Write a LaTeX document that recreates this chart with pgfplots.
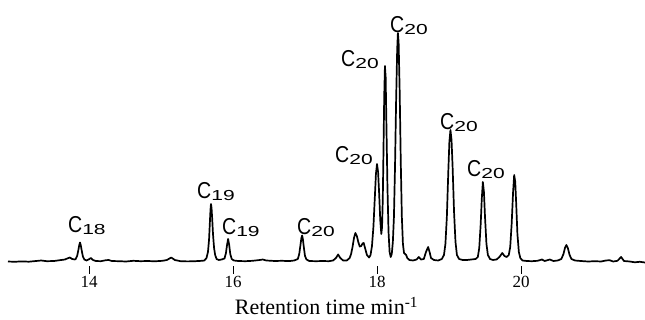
\documentclass[border=0pt]{standalone}
\usepackage{pgfplots}
\pgfplotsset{compat=1.18}
\usepackage{graphicx}
\usepackage{fontspec}
\setmainfont{Liberation Serif}
\newfontfamily\labfont{Liberation Sans}
\newcommand\clab[1]{{\labfont\fontsize{23}{23}\selectfont\scalebox{0.85}[1]{C}\raisebox{-1.5pt}{\scalebox{1.45}[1]{\fontsize{14.5}{14.5}\selectfont #1}}}}
\begin{document}
\begin{tikzpicture}
\useasboundingbox (0,0) rectangle (645pt,320pt);
\begin{axis}[
  at={(8pt,54pt)}, anchor=south west,
  scale only axis, width=637pt, height=266pt,
  xmin=12.875, xmax=21.722, ymin=-4, ymax=262,
  enlargelimits=false, clip=false,
  axis x line*=bottom, axis y line=none,
  x axis line style={draw=none},
  xtick={14,16,18,20}, ytick=\empty,
  tick align=outside, major tick length=8pt,
  tick style={black, line width=1pt},
  xticklabel style={font=\fontsize{17}{17}\selectfont, inner sep=2pt},
  /pgf/number format/assume math mode=true,
  xlabel={Retention time min\textsuperscript{-1}},
  xlabel style={font=\fontsize{22}{22}\selectfont, at={(axis description cs:0.5,0)}, anchor=base, yshift=-49pt, inner sep=0pt},
]
\addplot[black, line width=1.7pt, line join=round] coordinates {
(12.875,0.5)(12.965,0.2)(13.065,0.6)(13.165,0.3)(13.265,1.0)(13.335,1.5)(13.415,0.8)(13.515,1.0)
(13.595,1.8)(13.665,2.5)(13.715,4)(13.735,4.5)(13.765,3)(13.805,2.5)(13.815,3)(13.835,6)(13.85,11)
(13.865,17)(13.875,19.5)(13.885,17)(13.90,11)(13.915,5.5)(13.935,2.5)(13.965,1.5)(13.995,2.5)
(14.025,4)(14.055,2)(14.095,1)(14.165,0.8)(14.235,1.8)(14.275,2)(14.315,1)(14.415,0.8)(14.515,0.5)
(14.615,1.2)(14.715,0.8)(14.815,1.0)(14.915,0.7)
(15.022,1.2)(15.082,2)(15.142,4.5)(15.192,2)(15.272,0.8)(15.372,0.6)(15.472,0.8)(15.572,1.2)
(15.602,1.5)(15.632,4)(15.652,10)(15.667,22)(15.677,37)(15.687,52)(15.694,58)(15.702,54)(15.712,42)
(15.722,28)(15.737,14)(15.752,7)(15.772,3)(15.802,2)(15.842,2.5)(15.882,3.5)(15.902,9)(15.917,17)
(15.932,23)(15.947,17)(15.962,8)(15.982,3)(16.012,1.5)(16.072,1)(16.172,0.8)(16.272,1.2)(16.372,2)
(16.412,2.5)(16.462,1.5)
(16.58,1)(16.68,1.2)(16.78,0.9)(16.85,1.5)(16.90,3)(16.92,8)(16.935,16)(16.95,24)(16.96,26.5)
(16.97,23)(16.985,14)(17.00,6)(17.02,2.5)(17.06,1)(17.15,0.8)(17.25,1)(17.33,0.8)(17.39,1.5)
(17.43,4)(17.46,7.5)(17.49,4)(17.53,1.5)(17.58,1.5)(17.62,4)(17.64,8)(17.66,15)(17.68,24)(17.70,29)
(17.72,26)(17.74,20)(17.76,15.5)(17.78,16)(17.80,18.5)(17.815,19)(17.83,15)(17.86,7)(17.89,4.5)
(17.91,7)(17.93,16)(17.95,35)(17.97,65)(17.985,88)(18.00,98)(18.015,90)(18.03,68)(18.045,42)
(18.06,28)(18.07,35)(18.08,62)(18.09,112)(18.10,165)(18.11,196)(18.12,185)(18.13,140)(18.145,75)
(18.16,30)(18.175,10)(18.19,5)(18.205,8)(18.22,20)(18.235,45)(18.25,95)(18.265,160)(18.28,212)
(18.29,229)(18.30,220)(18.315,170)(18.33,100)(18.345,45)(18.36,18)(18.375,9)(18.39,8)(18.405,7)
(18.42,4)(18.45,2)(18.50,1.5)(18.55,2.5)(18.58,5)(18.61,2.5)(18.65,3)(18.68,10)(18.71,15)(18.73,10)
(18.75,4)(18.79,2)(18.85,1.5)(18.90,3)(18.93,7)(18.95,18)(18.97,45)(18.99,90)(19.005,120)(19.02,132)
(19.035,122)(19.05,95)(19.07,50)(19.09,20)(19.11,7)(19.14,3)(19.19,2)(19.25,2)(19.31,2.5)(19.37,3)
(19.40,5)(19.42,14)(19.44,38)(19.455,63)(19.47,80)(19.485,70)(19.50,45)(19.52,18)(19.54,7)(19.57,3)
(19.61,2)(19.66,2.5)(19.70,5)(19.74,9)(19.77,6)(19.80,5)(19.83,7)(19.85,15)(19.87,38)(19.89,70)
(19.905,87)(19.92,80)(19.935,55)(19.95,28)(19.97,10)(19.99,4)(20.02,1.5)(20.08,1)(20.15,0.8)
(20.23,1.2)(20.29,2.5)(20.33,1)(20.40,2.5)(20.45,1)(20.51,1.5)(20.56,3)(20.59,8)(20.61,14)(20.63,17)
(20.65,14)(20.675,7)(20.70,3)(20.75,1.5)(20.83,1)(20.93,0.5)(21.03,0.8)(21.11,0.5)(21.18,1.5)
(21.23,1.8)(21.28,0.5)(21.34,1.2)(21.39,5)(21.43,1)(21.51,0.5)(21.58,-0.3)(21.65,0.2)(21.722,-0.5)
};
\node[anchor=base west, inner sep=0pt] at (axis cs:13.708,29) {\clab{18}};
\node[anchor=base west, inner sep=0pt] at (axis cs:15.5,63) {\clab{19}};
\node[anchor=base west, inner sep=0pt] at (axis cs:15.847,27) {\clab{19}};
\node[anchor=base west, inner sep=0pt] at (axis cs:16.889,27) {\clab{20}};
\node[anchor=base west, inner sep=0pt] at (axis cs:17.417,99) {\clab{20}};
\node[anchor=base west, inner sep=0pt] at (axis cs:17.5,195) {\clab{20}};
\node[anchor=base west, inner sep=0pt] at (axis cs:18.181,229) {\clab{20}};
\node[anchor=base west, inner sep=0pt] at (axis cs:18.875,132) {\clab{20}};
\node[anchor=base west, inner sep=0pt] at (axis cs:19.25,85) {\clab{20}};
\end{axis}
\end{tikzpicture}
\end{document}
